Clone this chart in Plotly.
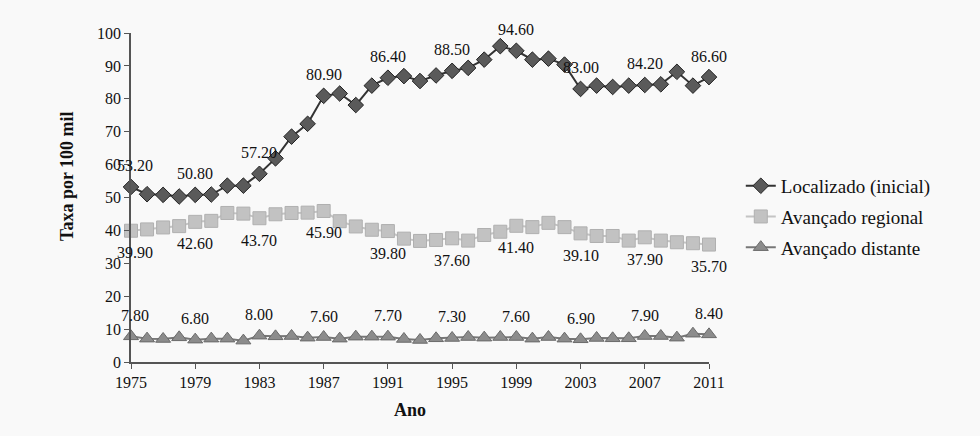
import plotly.graph_objects as go

years = list(range(1975, 2012))
localizado = [53.2, 51.0, 50.8, 50.3, 50.8, 50.9, 53.6, 53.6, 57.2, 61.9,
              68.5, 72.4, 80.9, 81.6, 78.1, 84.0, 86.4, 86.9, 85.4, 87.1,
              88.5, 89.4, 91.9, 96.0, 94.6, 91.9, 92.2, 90.4, 83.0, 84.0,
              83.6, 84.0, 84.2, 84.4, 88.2, 84.0, 86.6]
regional = [39.9, 40.3, 40.9, 41.3, 42.6, 42.9, 45.3, 45.1, 43.7, 44.9,
            45.3, 45.4, 45.9, 42.8, 41.2, 40.2, 39.8, 37.5, 36.8, 37.1,
            37.6, 36.9, 38.6, 39.6, 41.4, 41.0, 42.3, 41.0, 39.1, 38.3,
            38.3, 36.9, 37.9, 36.9, 36.4, 36.1, 35.7]
distante = [7.8, 7.1, 7.0, 7.5, 6.8, 7.1, 7.1, 6.5, 8.0, 7.8,
            7.9, 7.4, 7.6, 7.1, 7.7, 7.7, 7.7, 7.0, 6.7, 7.2,
            7.3, 7.6, 7.4, 7.6, 7.6, 7.1, 7.6, 7.1, 6.9, 7.3,
            7.2, 7.2, 7.9, 7.9, 7.4, 8.6, 8.4]
names = ["Localizado (inicial)", "Avançado regional", "Avançado distante"]
tick_years = list(range(1975, 2012, 4))
label_years = tick_years

FONT = "Liberation Serif, Times New Roman, serif"

fig = go.Figure()
fig.add_trace(go.Scatter(
    x=years, y=localizado, name=names[0], mode="lines+markers",
    legendgroup="a",
    line=dict(color="#333333", width=2),
    marker=dict(symbol="diamond", size=12, color="#5a5a5a",
                line=dict(color="#222222", width=1)),
    cliponaxis=False))
fig.add_trace(go.Scatter(
    x=years, y=regional, name=names[1], mode="lines+markers",
    legendgroup="b",
    line=dict(color="#c4c4c4", width=2),
    marker=dict(symbol="square", size=13, color="#c2c2c2",
                line=dict(color="#b0b0b0", width=1)),
    cliponaxis=False))
fig.add_trace(go.Scatter(
    x=years, y=distante, name=names[2], mode="lines+markers",
    legendgroup="c",
    line=dict(color="#777777", width=2),
    marker=dict(symbol="triangle-up", size=13, color="#8c8c8c",
                line=dict(color="#6a6a6a", width=1)),
    cliponaxis=False))

annotations = []
for series, shift in [(localizado, 21), (regional, -22), (distante, 21)]:
    for yr in label_years:
        v = series[years.index(yr)]
        annotations.append(dict(
            x=yr, y=v, xref="x", yref="y", text=f"{v:.2f}",
            showarrow=False, yshift=shift, xshift=4 if yr == years[0] else 0,
            font=dict(family=FONT, size=16, color="#111111")))

annotations.append(dict(
    x=0.483, y=-0.146, xref="paper", yref="paper", text="<b>Ano</b>",
    showarrow=False, xanchor="center", yanchor="middle",
    font=dict(family=FONT, size=18, color="#111111")))
annotations.append(dict(
    x=-0.111, y=0.565, xref="paper", yref="paper",
    text="<b>Taxa por 100 mil</b>", textangle=-90,
    showarrow=False, xanchor="center", yanchor="middle",
    font=dict(family=FONT, size=18, color="#111111")))

fig.update_layout(
    width=980, height=436,
    margin=dict(l=131, r=271, t=33, b=74),
    paper_bgcolor="#f9f9f9", plot_bgcolor="#f9f9f9",
    font=dict(family=FONT, size=16, color="#111111"),
    annotations=annotations,
    showlegend=True,
    legend=dict(x=1.055, y=0.441, xanchor="left", yanchor="middle",
                bgcolor="rgba(0,0,0,0)",
                font=dict(family=FONT, size=19, color="#111111"),
                tracegroupgap=3),
    xaxis=dict(range=[1975, 2011], tickvals=tick_years,
               showgrid=False, zeroline=False, showline=True,
               linecolor="#555555", linewidth=1.5,
               ticks="outside", ticklen=5, tickcolor="#555555",
               tickfont=dict(family=FONT, size=16, color="#111111")),
    yaxis=dict(range=[0, 100], tickvals=list(range(0, 101, 10)),
               showgrid=False, zeroline=False, showline=True,
               linecolor="#555555", linewidth=1.5,
               ticks="outside", ticklen=5, tickcolor="#555555",
               tickfont=dict(family=FONT, size=16, color="#111111")),
)

fig.write_html("out.html")
